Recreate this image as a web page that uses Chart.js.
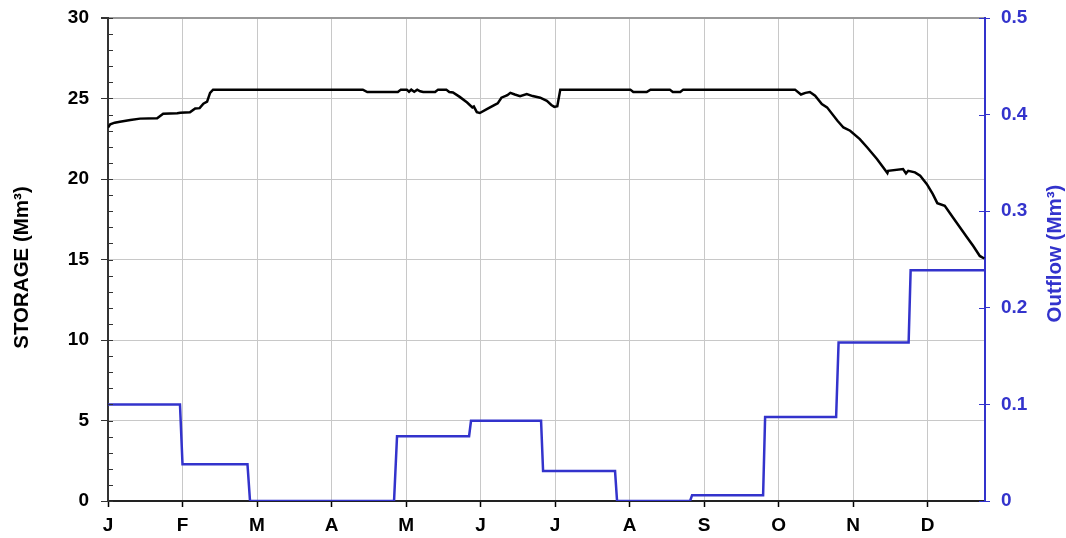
<!DOCTYPE html>
<html>
<head>
<meta charset="utf-8">
<script src="https://cdn.jsdelivr.net/npm/chart.js@4.4.1/dist/chart.umd.min.js"></script>
<style>
  html, body { margin: 0; padding: 0; background: #fff; }
  #wrap { width: 1066px; height: 538px; }
</style>
</head>
<body>
<div id="wrap"><canvas id="chart" width="1066" height="538"></canvas></div>
<script>
// ------------- DATA -------------
// x positions are in months from 1 Jan (0 = J, 1 = F, ...)
const monthLabels = ['J','F','M','A','M','J','J','A','S','O','N','D'];
const xMax = 11.77;

// storage (Mm3)
const storageX = [0.00,0.03,0.09,0.16,0.30,0.43,0.66,0.74,0.93,0.97,1.10,1.17,1.23,1.28,1.33,1.37,1.41,
  3.42,3.48,3.89,3.93,4.01,4.04,4.07,4.11,4.15,4.19,4.23,4.39,4.43,4.54,4.58,4.63,4.72,4.82,4.89,4.91,4.95,4.99,
  5.09,5.19,5.23,5.28,5.36,5.40,5.46,5.53,5.62,5.70,5.80,5.89,5.95,5.99,6.03,6.07,
  7.01,7.05,7.23,7.28,7.54,7.58,7.68,7.72,9.22,9.30,9.36,9.42,9.49,9.58,9.65,9.79,9.87,9.96,
  10.09,10.19,10.32,10.46,10.47,10.67,10.71,10.74,10.83,10.90,10.99,11.07,11.13,11.23,11.34,11.53,11.61,11.70,11.76];
const storageY = [23.2,23.4,23.5,23.56,23.66,23.75,23.77,24.05,24.08,24.12,24.14,24.38,24.4,24.68,24.8,25.35,25.55,
  25.55,25.4,25.4,25.55,25.55,25.42,25.55,25.42,25.55,25.45,25.4,25.4,25.55,25.55,25.4,25.38,25.1,24.75,24.45,24.5,24.15,24.1,
  24.35,24.6,24.7,25.05,25.2,25.35,25.25,25.15,25.28,25.15,25.05,24.85,24.6,24.48,24.52,25.55,
  25.55,25.4,25.4,25.55,25.55,25.4,25.4,25.55,25.55,25.25,25.35,25.4,25.17,24.66,24.45,23.62,23.2,23.0,
  22.48,21.96,21.24,20.37,20.51,20.62,20.35,20.51,20.41,20.2,19.68,19.06,18.5,18.33,17.61,16.37,15.85,15.22,15.06];

// outflow (Mm3), monthly steps on the blue line
const outflowX = [0,0.966,1.0,1.872,1.906,3.839,3.879,4.846,4.872,5.812,5.839,6.805,6.832,7.812,7.839,
  8.792,8.819,9.772,9.805,10.745,10.772,11.77];
const outflowY = [0.1,0.1,0.038,0.038,0,0,0.067,0.067,0.083,0.083,0.031,0.031,0,0,0.006,
  0.006,0.087,0.087,0.164,0.164,0.239,0.239];

const storageTitle = 'STORAGE (Mm³)';
const outflowTitle = 'Outflow (Mm³)';

// ------------- STYLE -------------
const BLUE = '#3333cc';
const GRID = '#c8c8c8';
const FAMILY = '"Liberation Sans", Arial, sans-serif';
const FONT = { family: FAMILY, size: 19, weight: 'bold' };
const TITLE_FONT = `bold 20.5px ${FAMILY}`;

function toPoints(xs, ys){
  return xs.map((x, i) => ({ x, y: ys[i] }));
}

// vertical axes: fixed width, no extra label padding so layout.padding.top rules
function fitVertical(width){
  return s => { s.width = width; s.paddingTop = 0; s.paddingBottom = 0; };
}

function drawVerticalTitle(ctx, text, x, y, color){
  ctx.save();
  ctx.translate(x, y);
  ctx.rotate(-Math.PI / 2);
  ctx.fillStyle = color;
  ctx.font = TITLE_FONT;
  ctx.textAlign = 'center';
  ctx.textBaseline = 'middle';
  ctx.fillText(text, 0, 0);
  ctx.restore();
}

// minor ticks on the storage axis, crossing ticks on the outflow axis, axis titles
const extraMarks = {
  id: 'extraMarks',
  afterDraw(chart){
    const { ctx, chartArea, scales } = chart;
    const yS = scales.y, yO = scales.y1;
    ctx.save();
    ctx.lineWidth = 1;
    ctx.strokeStyle = '#333';
    for (let v = 0; v <= 30; v++) {
      const py = Math.round(yS.getPixelForValue(v)) + 0.5;
      ctx.beginPath();
      ctx.moveTo(chartArea.left, py);
      ctx.lineTo(chartArea.left + 5, py);
      ctx.stroke();
    }
    ctx.strokeStyle = BLUE;
    yO.ticks.forEach(t => {
      const py = Math.round(yO.getPixelForValue(t.value)) + 0.5;
      ctx.beginPath();
      ctx.moveTo(chartArea.right - 6, py);
      ctx.lineTo(chartArea.right, py);
      ctx.stroke();
    });
    ctx.restore();
    const mid = (chartArea.top + chartArea.bottom) / 2;
    drawVerticalTitle(ctx, storageTitle, 22, mid + 8, '#000');
    drawVerticalTitle(ctx, outflowTitle, chart.width - 11, mid - 6, BLUE);
  }
};

const ctx = document.getElementById('chart').getContext('2d');
new Chart(ctx, {
  type: 'line',
  data: {
    datasets: [
      { label: 'Storage', data: toPoints(storageX, storageY), yAxisID: 'y',
        borderColor: '#000', borderWidth: 2.5, pointRadius: 0, tension: 0, fill: false },
      { label: 'Outflow', data: toPoints(outflowX, outflowY), yAxisID: 'y1',
        borderColor: BLUE, borderWidth: 2.5, pointRadius: 0, tension: 0, fill: false }
    ]
  },
  options: {
    responsive: false,
    animation: false,
    devicePixelRatio: 1,
    layout: { padding: { left: 0, right: 0, top: 18, bottom: 0 } },
    plugins: { legend: { display: false }, tooltip: { enabled: false } },
    scales: {
      x: {
        type: 'linear', min: 0, max: xMax,
        afterFit: s => { s.height = 37; s.paddingLeft = 0; s.paddingRight = 0; },
        ticks: { stepSize: 1, includeBounds: false, autoSkip: false, maxRotation: 0,
          color: '#000', font: FONT, padding: 7,
          callback: v => monthLabels[v] },
        grid: { color: c => c.tick && c.tick.value === 0 ? 'rgba(0,0,0,0)' : GRID,
          lineWidth: 1, tickColor: '#000', tickLength: 6, tickWidth: 1.5 },
        border: { color: '#222', width: 2 }
      },
      y: {
        position: 'left', min: 0, max: 30,
        afterFit: fitVertical(108),
        ticks: { stepSize: 5, color: '#000', font: FONT, padding: 12 },
        grid: { color: c => c.tick.value === 30 ? '#999' : (c.tick.value === 0 ? 'rgba(0,0,0,0)' : GRID),
          lineWidth: c => c.tick.value === 30 ? 2 : 1,
          tickColor: '#333', tickLength: 7 },
        border: { color: '#333', width: 2 },
        title: { display: false }
      },
      y1: {
        position: 'right', min: 0, max: 0.5,
        afterFit: fitVertical(81),
        ticks: { stepSize: 0.1, color: BLUE, font: FONT, padding: 11,
          callback: v => v === 0 ? '0' : v.toFixed(1) },
        grid: { drawOnChartArea: false, tickColor: BLUE, tickLength: 5 },
        border: { color: BLUE, width: 2 },
        title: { display: false }
      }
    }
  },
  plugins: [extraMarks]
});
</script>
</body>
</html>
